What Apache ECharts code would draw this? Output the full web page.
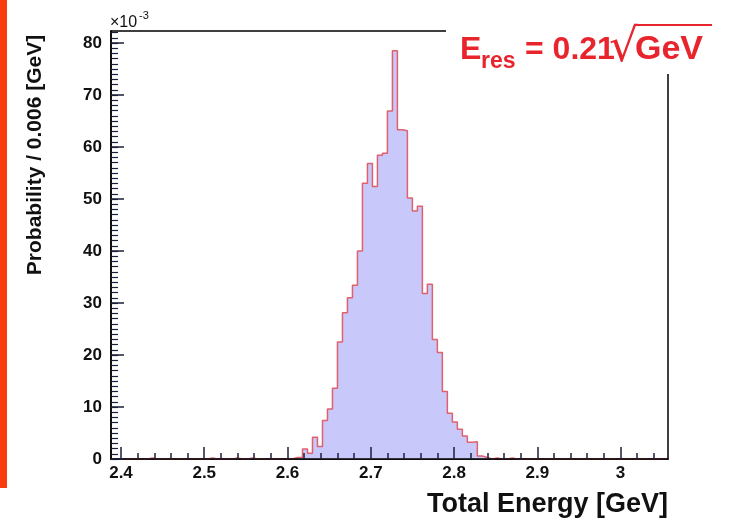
<!DOCTYPE html>
<html>
<head>
<meta charset="utf-8">
<script src="https://cdn.jsdelivr.net/npm/echarts@6/dist/echarts.min.js"></script>
<style>
  html, body { margin: 0; padding: 0; background: #fff; }
  #main { width: 732px; height: 524px; }
</style>
</head>
<body>
<div id="main"></div>
<script>
// histogram bins: 0.006 GeV wide, starting at 2.39 GeV
const binLow = 2.39
const binWidth = 0.006
// probability per bin, in units of 1e-3
const probability = [
  0, 0, 0, 0, 0, 0, 0, 0.2, 0, 0,
  0, 0, 0, 0, 0, 0, 0, 0, 0, 0.2,
  0, 0, 0, 0, 0.2, 0, 0, 0.2, 0, 0,
  0, 0, 0, 0, 0, 0, 0.3, 0.3, 1.9, 1.1,
  4.2, 2.4, 7.4, 9.6, 13.6, 22.5, 28.1, 31.0, 33.4, 40.0,
  53.0, 56.8, 52.4, 58.4, 58.8, 66.9, 78.5, 63.3, 63.1, 50.2,
  47.7, 48.6, 31.8, 33.6, 23.0, 20.5, 13.0, 8.8, 7.1, 5.7,
  4.4, 3.2, 3.3, 0.6, 0.3, 0, 0.2, 0, 0, 0.2,
  0, 0, 0, 0, 0, 0, 0, 0, 0, 0,
  0, 0, 0, 0, 0, 0, 0, 0, 0, 0,
  0, 0, 0, 0, 0, 0, 0, 0, 0, 0,
  0
]
const xTicks = [2.4, 2.5, 2.6, 2.7, 2.8, 2.9, 3.0]
const xMinorTicks = [2.4, 2.42, 2.44, 2.46, 2.48, 2.5, 2.52, 2.54, 2.56, 2.58, 2.6,
  2.62, 2.64, 2.66, 2.68, 2.7, 2.72, 2.74, 2.76, 2.78, 2.8, 2.82, 2.84, 2.86, 2.88,
  2.9, 2.92, 2.94, 2.96, 2.98, 3.0, 3.02, 3.04]
const yTicks = [0, 10, 20, 30, 40, 50, 60, 70, 80]

const FONT = "'Liberation Sans', Arial, Helvetica, sans-serif"
const RED = '#e8252d'

// step line points: left edge of every bin, then the last right edge
const histData = probability.map((v, i) => [binLow + i * binWidth, v])
histData.push([binLow + probability.length * binWidth, 0])

const chart = echarts.init(document.getElementById('main'), null, { renderer: 'canvas' })

const minorYTicks = []
for (let v = 0; v <= 82; v++) minorYTicks.push(v)

const option = {
  animation: false,
  backgroundColor: '#fff',
  grid: {
    left: 111, right: 64, top: 31, bottom: 65,
    show: true, borderColor: '#000', borderWidth: 1.5, backgroundColor: 'transparent'
  },
  xAxis: [{
    type: 'value', min: 2.388, max: 3.057, z: 10,
    splitLine: { show: false },
    axisLine: { onZero: false, lineStyle: { color: '#000', width: 1.5 } },
    axisTick: { inside: true, length: 12, customValues: xTicks, lineStyle: { color: '#1c1f3a', width: 1.5 } },
    axisLabel: {
      customValues: xTicks, margin: 6, color: '#111',
      fontFamily: FONT, fontWeight: 'bold', fontSize: 17,
      formatter: v => (Math.round(v * 10) / 10).toString()
    }
  }, {
    type: 'value', min: 2.388, max: 3.057, z: 10, position: 'bottom',
    splitLine: { show: false },
    axisLine: { show: false },
    axisTick: { inside: true, length: 6, customValues: xMinorTicks, lineStyle: { color: '#1c1f3a', width: 1.5 } },
    axisLabel: { show: false }
  }],
  yAxis: [{
    type: 'value', min: 0, max: 82.3, z: 10,
    splitLine: { show: false },
    axisLine: { onZero: false, lineStyle: { color: '#000', width: 1.5 } },
    axisTick: { inside: true, length: 13, customValues: yTicks, lineStyle: { color: '#1c1f3a', width: 1.5 } },
    axisLabel: {
      customValues: yTicks, margin: 9, color: '#111',
      fontFamily: FONT, fontWeight: 'bold', fontSize: 17
    }
  }, {
    type: 'value', min: 0, max: 82.3, z: 10, position: 'left',
    splitLine: { show: false },
    axisLine: { show: false },
    axisTick: { inside: true, length: 7, customValues: minorYTicks, lineStyle: { color: '#1c1f3a', width: 1.2 } },
    axisLabel: { show: false }
  }],
  series: [{
    type: 'line',
    step: 'end',
    data: histData,
    symbol: 'none',
    lineStyle: { color: '#e0606e', width: 1.5 },
    areaStyle: { color: '#c8c8fa', opacity: 1 },
    z: 2
  }],
  graphic: [
    // orange bar on the left edge of the slide
    { type: 'rect', z: 100, shape: { x: 0, y: 0, width: 7, height: 488 }, style: { fill: '#f93c10' } },
    // white box behind the resolution label
    { type: 'rect', z: 100, shape: { x: 446, y: 10, width: 286, height: 64 }, style: { fill: '#fff' } },
    { type: 'text', z: 101, style: { x: 460, y: 34, text: 'E', fill: RED, font: 'bold 32px ' + FONT } },
    { type: 'text', z: 101, style: { x: 481, y: 50, text: 'res', fill: RED, font: 'bold 23px ' + FONT } },
    { type: 'text', z: 101, style: { x: 525, y: 34, text: '= 0.21', fill: RED, font: 'bold 32px ' + FONT } },
    { type: 'text', z: 101, style: { x: 609, y: 26, text: '√', fill: RED, font: '46px DejaVu Sans' } },
    { type: 'line', z: 101, shape: { x1: 634, y1: 25, x2: 712, y2: 25 }, style: { stroke: RED, lineWidth: 2 } },
    { type: 'text', z: 101, style: { x: 635, y: 33, text: 'GeV', fill: RED, font: 'bold 34px ' + FONT } },
    // exponent above the y axis
    { type: 'text', z: 101, style: { x: 110, y: 15, text: '×10', fill: '#111', font: '16px ' + FONT } },
    { type: 'text', z: 101, style: { x: 139, y: 10, text: '-3', fill: '#111', font: '11px ' + FONT } },
    // axis titles
    {
      type: 'text', z: 101, x: 35, y: 155, rotation: Math.PI / 2,
      style: { x: 0, y: 0, text: 'Probability / 0.006 [GeV]', fill: '#111', font: 'bold 21px ' + FONT, align: 'center', verticalAlign: 'middle' }
    },
    { type: 'text', z: 101, style: { x: 668, y: 505, text: 'Total Energy [GeV]', fill: '#111', font: 'bold 27px ' + FONT, align: 'right', verticalAlign: 'middle' } }
  ]
}

chart.setOption(option)
</script>
</body>
</html>
